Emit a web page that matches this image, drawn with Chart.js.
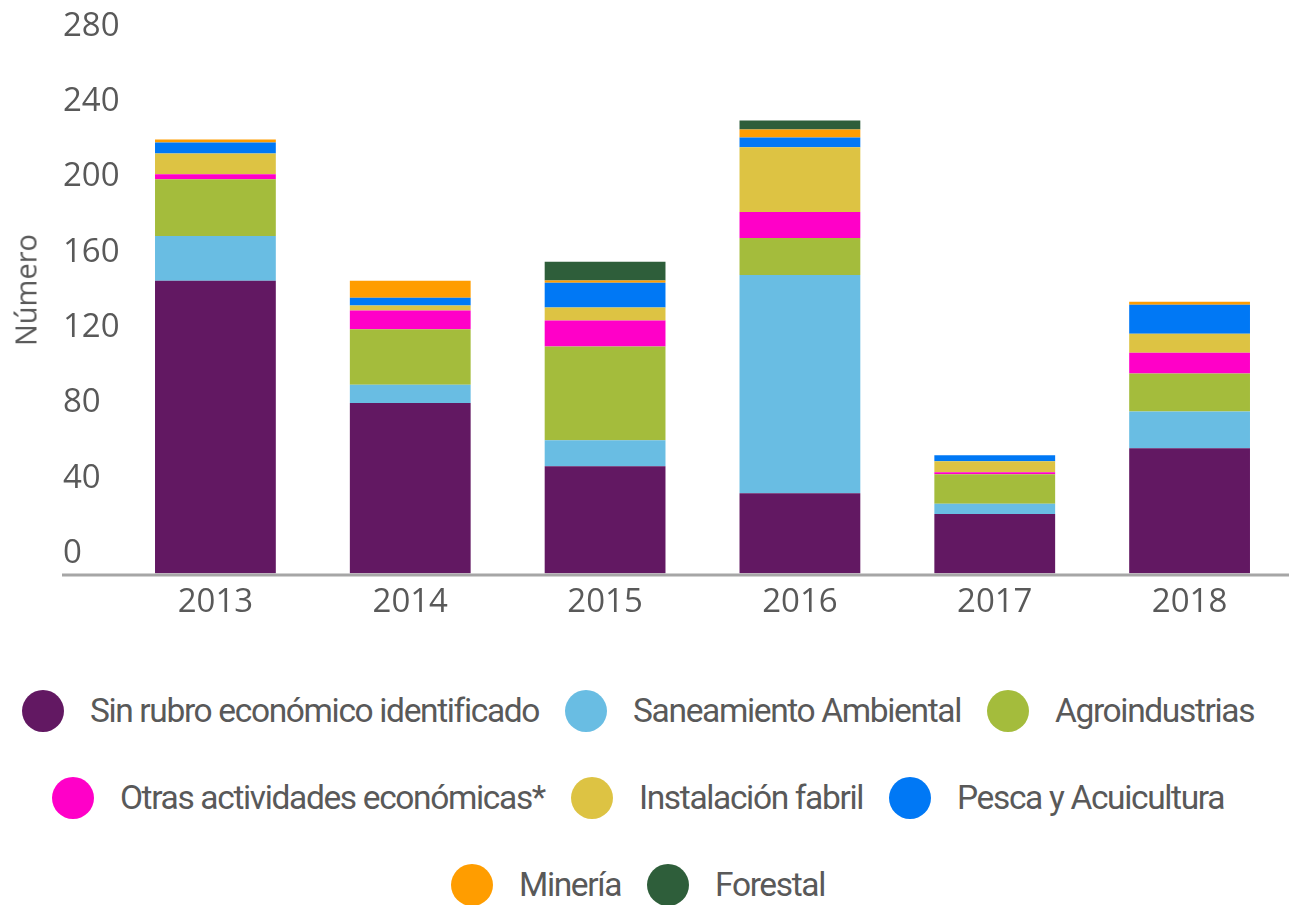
<!DOCTYPE html>
<html>
<head>
<meta charset="utf-8">
<script src="https://cdn.jsdelivr.net/npm/chart.js@4.4.1/dist/chart.umd.min.js"></script>
<style>
    body { margin: 0; background: #fff; width: 1289px; height: 905px; overflow: hidden; position: relative; color: #595959; font-family: "Open Sans", sans-serif; }
    #wrap { position: absolute; left: 0; top: 0; width: 1289px; height: 640px; }
    #ytitle { position: absolute; left: 25px; top: 290px; transform: translate(-50%, -50%) rotate(-90deg); font-size: 29px; white-space: nowrap; }
    #legend { position: absolute; left: 0; top: 690px; width: 1276px; font-family: Roboto, sans-serif; font-size: 33.5px; letter-spacing: -1.35px; }
    .row { display: flex; justify-content: center; column-gap: 26px; margin-bottom: 45px; }
    .item { display: flex; align-items: center; height: 42px; line-height: 42px; white-space: nowrap; }
    .dot { width: 42px; height: 42px; border-radius: 50%; margin-right: 26px; flex: none; }
</style>
</head>
<body>
<div id="wrap"><canvas id="chart"></canvas></div>
<div id="ytitle">Número</div>
<div id="legend"></div>
<script>
// Data
const years = ['2013', '2014', '2015', '2016', '2017', '2018'];
const sinRubro = [155.5, 90.5, 57, 42.6, 31.5, 66.5];
const saneamiento = [23.8, 9.7, 13.8, 116, 5.5, 19.6];
const agroindustrias = [30.2, 29.5, 49.8, 19.6, 15.7, 20.1];
const otras = [2.6, 10, 13.8, 13.8, 1.1, 11.1];
const instalacion = [11.1, 2.6, 6.9, 34.4, 5.8, 10];
const pesca = [5.8, 4.2, 13.2, 5.3, 3.2, 15.4];
const mineria = [1.6, 9, 1.1, 4.2, 0, 1.6];
const forestal = [0, 0, 10, 4.8, 0, 0];
const yTicks = [0, 40, 80, 120, 160, 200, 240, 280];

const seriesNames = ['Sin rubro económico identificado', 'Saneamiento Ambiental', 'Agroindustrias',
    'Otras actividades económicas*', 'Instalación fabril', 'Pesca y Acuicultura', 'Minería', 'Forestal'];
const seriesData = [sinRubro, saneamiento, agroindustrias, otras, instalacion, pesca, mineria, forestal];
const seriesColors = ['#621862', '#69BDE3', '#A4BC3C', '#FF00C8', '#DDC343', '#0078F5', '#FF9D00', '#2E5E3A'];
const legendRows = [3, 3, 2];

const textColor = '#595959';

// x axis line runs from the left labels to the right edge
const baseLine = {
    id: 'baseLine',
    afterDatasetsDraw(chart) {
        const ctx = chart.ctx;
        const y = chart.scales.y.getPixelForValue(0);
        ctx.save();
        ctx.strokeStyle = '#A6A6A6';
        ctx.lineWidth = 3;
        ctx.beginPath();
        ctx.moveTo(62, y + 1.5);
        ctx.lineTo(chart.width, y + 1.5);
        ctx.stroke();
        ctx.restore();
    }
};

const ctx = document.getElementById('chart').getContext('2d');
new Chart(ctx, {
    type: 'bar',
    data: {
        labels: years,
        datasets: seriesNames.map((name, i) => ({
            label: name,
            data: seriesData[i],
            backgroundColor: seriesColors[i],
            borderWidth: 0,
            categoryPercentage: 1,
            barPercentage: 0.62
        }))
    },
    options: {
        responsive: true,
        maintainAspectRatio: false,
        animation: false,
        layout: { padding: { left: 63, right: 2, top: 46.5, bottom: 9 } },
        plugins: {
            legend: { display: false },
            tooltip: { enabled: false }
        },
        scales: {
            x: {
                stacked: true,
                grid: { display: false, drawTicks: false },
                border: { display: false },
                ticks: { color: textColor, font: { family: 'Open Sans', size: 33 }, padding: 9 }
            },
            y: {
                stacked: true,
                min: 0,
                max: 280,
                afterBuildTicks: (scale) => { scale.ticks = yTicks.map(v => ({ value: v })); },
                afterFit: (scale) => { scale.width = 55; },
                grid: { display: false, drawTicks: false },
                border: { display: false },
                ticks: {
                    color: textColor,
                    font: { family: 'Open Sans', size: 33 },
                    crossAlign: 'far',
                    padding: 0,
                    labelOffset: -20
                }
            }
        }
    },
    plugins: [baseLine]
});

// legend built from the same series, three rows as in the reference
const legend = document.getElementById('legend');
let start = 0;
legendRows.forEach(count => {
    const row = document.createElement('div');
    row.className = 'row';
    seriesNames.slice(start, start + count).forEach((name, k) => {
        const item = document.createElement('div');
        item.className = 'item';
        const dot = document.createElement('span');
        dot.className = 'dot';
        dot.style.background = seriesColors[start + k];
        const label = document.createElement('span');
        label.textContent = name;
        item.appendChild(dot);
        item.appendChild(label);
        row.appendChild(item);
    });
    legend.appendChild(row);
    start += count;
});
</script>
</body>
</html>
